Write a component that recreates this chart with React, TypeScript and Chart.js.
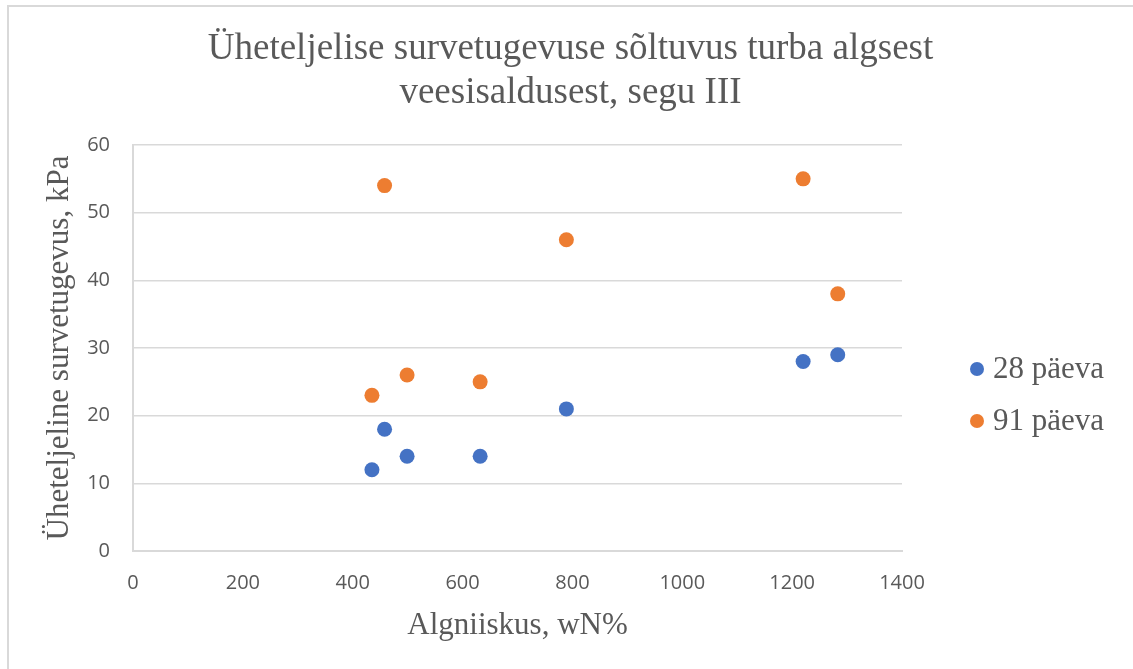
import React, { useEffect, useRef } from "react";
import { Chart, registerables } from "chart.js";

Chart.register(...registerables);

const titleLines = ["Üheteljelise survetugevuse sõltuvus turba algsest", "veesisaldusest, segu III"];
const xTitle = "Algniiskus, wN%";
const yTitle = "Üheteljeline survetugevus, kPa";

const seriesNames = ["28 päeva", "91 päeva"];
const seriesColors = ["#4472C4", "#ED7D31"];

const moisture = [435, 458, 499, 632, 789, 1220, 1283];
const strength28 = [12, 18, 14, 14, 21, 28, 29];
const strength91 = [23, 54, 26, 25, 46, 55, 38];

const xMin = 0;
const xMax = 1400;
const xStep = 200;
const yMin = 0;
const yMax = 60;
const yStep = 10;

const TEXT = "#595959";
const GRID = "#D9D9D9";
const SERIF = "'Liberation Serif', 'Times New Roman', serif";
const SANS = "'Open Sans', 'Liberation Sans', sans-serif";

const frame = {
  id: "frame",
  beforeDraw(chart: any) {
    const { ctx, width, height } = chart;
    ctx.save();
    ctx.fillStyle = "#FFFFFF";
    ctx.fillRect(0, 0, width, height);
    ctx.strokeStyle = GRID;
    ctx.lineWidth = 2;
    ctx.beginPath();
    ctx.moveTo(8, height);
    ctx.lineTo(8, 6);
    ctx.lineTo(width, 6);
    ctx.stroke();
    ctx.restore();
  },
};

const topTitle = {
  id: "topTitle",
  afterDraw(chart: any) {
    const { ctx, width } = chart;
    ctx.save();
    ctx.font = `37px ${SERIF}`;
    ctx.fillStyle = TEXT;
    ctx.textAlign = "center";
    ctx.textBaseline = "alphabetic";
    const cx = (8 + width) / 2;
    titleLines.forEach((line, i) => {
      ctx.fillText(line, cx, 59 + i * 44);
    });
    ctx.restore();
  },
};

const sideLegend = {
  id: "sideLegend",
  afterDraw(chart: any) {
    const { ctx } = chart;
    const area = chart.chartArea;
    ctx.save();
    ctx.font = `31px ${SERIF}`;
    ctx.textBaseline = "alphabetic";
    ctx.textAlign = "left";
    const x0 = area.right + 75;
    const yStart = area.top + 224;
    chart.data.datasets.forEach((ds: any, i: number) => {
      const y = yStart + i * 52;
      ctx.fillStyle = ds.backgroundColor;
      ctx.beginPath();
      ctx.arc(x0, y, 7, 0, Math.PI * 2);
      ctx.fill();
      ctx.fillStyle = TEXT;
      ctx.fillText(ds.label, x0 + 16, y + 9);
    });
    ctx.restore();
  },
};

export default function App() {
  const ref = useRef<HTMLCanvasElement | null>(null);

  useEffect(() => {
    if (!ref.current) return;
    const mk = (vals: number[]) => moisture.map((x, i) => ({ x, y: vals[i] }));
    const chart = new Chart(ref.current, {
      type: "scatter",
      data: {
        datasets: [
          {
            label: seriesNames[0],
            data: mk(strength28),
            backgroundColor: seriesColors[0],
            borderColor: seriesColors[0],
            pointRadius: 7.5,
            pointBorderWidth: 0,
          },
          {
            label: seriesNames[1],
            data: mk(strength91),
            backgroundColor: seriesColors[1],
            borderColor: seriesColors[1],
            pointRadius: 7.5,
            pointBorderWidth: 0,
          },
        ],
      },
      options: {
        responsive: false,
        animation: false,
        layout: { padding: { left: 40, right: 231, top: 145, bottom: 0 } },
        plugins: {
          legend: { display: false },
          tooltip: { enabled: false },
          title: { display: false },
        },
        scales: {
          x: {
            type: "linear",
            min: xMin,
            max: xMax,
            ticks: {
              stepSize: xStep,
              color: TEXT,
              font: { family: SANS, size: 20 },
              padding: 20,
              maxRotation: 0,
              callback: (v: any) => String(v),
            },
            grid: { display: false, drawTicks: false },
            border: { display: true, color: GRID, width: 2 },
            title: {
              display: true,
              text: xTitle,
              color: TEXT,
              font: { family: SERIF, size: 31, lineHeight: 1.2 },
              padding: { top: 0, bottom: 24.5 },
            },
            afterFit: (s: any) => {
              s.height = 118;
            },
          },
          y: {
            type: "linear",
            min: yMin,
            max: yMax,
            ticks: {
              stepSize: yStep,
              color: TEXT,
              font: { family: SANS, size: 20 },
              padding: 23,
              callback: (v: any) => String(v),
            },
            grid: { color: GRID, lineWidth: 1.5, drawTicks: false },
            border: { display: true, color: GRID, width: 2 },
            title: {
              display: true,
              text: yTitle,
              color: TEXT,
              font: { family: SERIF, size: 31, lineHeight: 1.2 },
              padding: { top: 1.5, bottom: 0 },
            },
            afterFit: (s: any) => {
              s.width = 93;
            },
          },
        },
      },
      plugins: [frame, topTitle, sideLegend],
    });
    return () => chart.destroy();
  }, []);

  return (
    <div style={{ position: "absolute", left: 0, top: 0, width: 1133, height: 669 }}>
      <canvas ref={ref} width={1133} height={669} style={{ display: "block" }} />
    </div>
  );
}
